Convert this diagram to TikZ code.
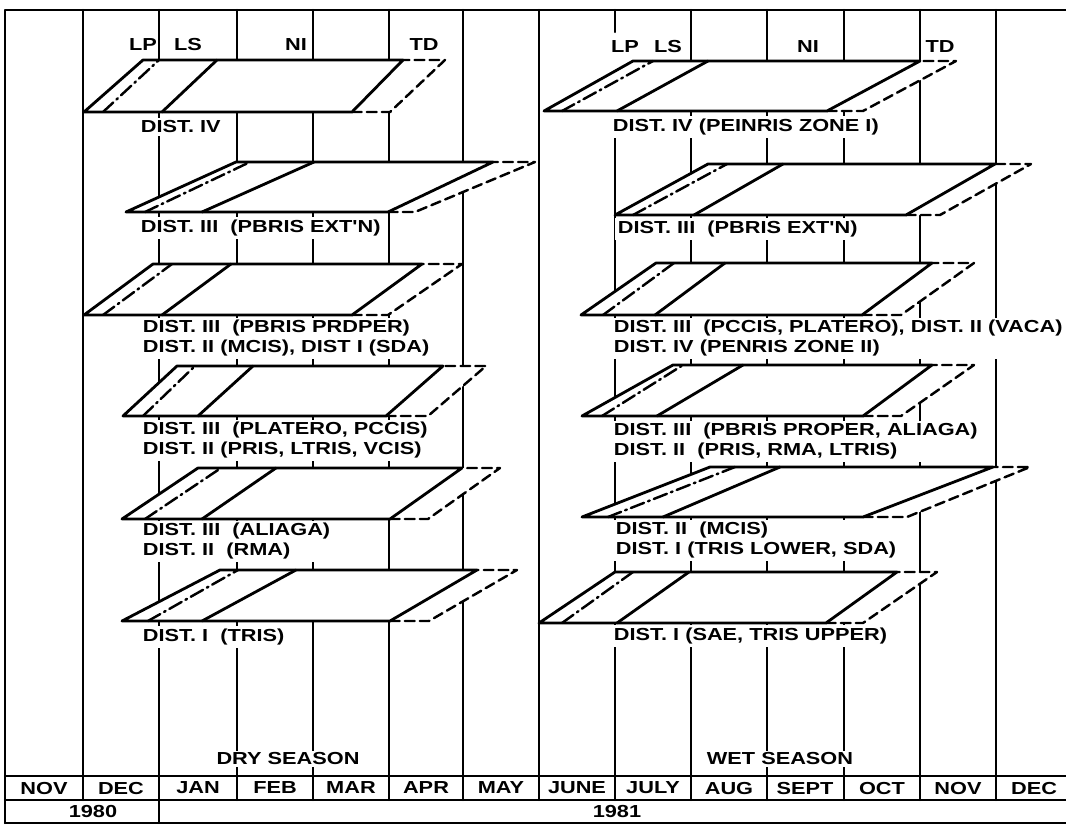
\documentclass[tikz,border=0pt]{standalone}
\usepackage{fontspec}
\newfontfamily\lettering{Liberation Sans Bold}[FakeStretch=1.25]

\begin{document}
\begin{tikzpicture}[x=0.02cm, y=-0.02cm, line cap=round, line join=round,
    frameline/.style={line width=1.4pt},
    planeline/.style={line width=1.6pt},
    dashext/.style={line width=1.4pt, dash pattern=on 5.5pt off 3pt},
    dashdot/.style={line width=1.4pt, dash pattern=on 8pt off 2.5pt on 1pt off 2.5pt},
    lbl/.style={anchor=west, fill=white, inner sep=1.5pt, align=left,
        font=\lettering\fontsize{9.9}{11.1}\selectfont},
    tag/.style={inner sep=1pt, font=\lettering\fontsize{9.9}{11.1}\selectfont}]

    % page (drawing units = pixels of the chart)
    \useasboundingbox (0,0) rectangle (1066,826);

    % month boundaries (hidden later by the planes and the labels)
    \foreach \x in {83,159,237,313,389,463,539,691,767,844,920,996}
        \draw[frameline] (\x,10) -- (\x,776);
    \draw[frameline] (615,10) -- (615,32);
    \draw[frameline] (615,120) -- (615,776);

    % frame
    \draw[frameline] (5,823) -- (5,10) -- (1066,10);
    \draw[frameline] (5,776) -- (1066,776);
    \draw[frameline] (5,800) -- (1066,800);
    \draw[frameline] (5,823) -- (1066,823);
    \draw[frameline] (159,800) -- (159,823);
    \foreach \x in {83,159,237,313,389,463,539,615,691,767,844,920,996}
        \draw[frameline] (\x,776) -- (\x,800);

    % planes: top y / bottom y / outer edge / dash-dot edge / inner edge / right solid edge / right dashed edge
    \foreach \yt/\yb/\bl/\tl/\dbl/\dtl/\sbl/\stl/\rbl/\rtl/\ebl/\etl in {
        60/112/84/143/103/159/162/217/352/403/390/445,
        162/212/126/236/145/250/202/314/388/493/415/535,
        264/315/84/153/103/172/162/231/352/422/388/462,
        366/416/123/177/143/195/198/253/386/443/428/486,
        468/519/122/198/145/221/202/276/390/462/428/500,
        570/621/122/220/148/238/202/296/390/477/429/517,
        61/111/544/633/562/653/617/708/827/920/863/956,
        164/215/615/708/633/727/694/783/906/995/940/1031,
        263/315/581/656/603/674/655/725/862/932/901/974,
        365/416/582/673/602/683/657/743/863/932/901/974,
        467/517/582/710/608/735/663/780/863/993/907/1030,
        572/623/539/615/562/633/617/689/826/897/863/937} {
        \fill[white] (\bl,\yb) -- (\tl,\yt) -- (\etl,\yt) -- (\ebl,\yb) -- cycle;
        \draw[planeline] (\bl,\yb) -- (\tl,\yt) -- (\rtl,\yt) -- (\rbl,\yb) -- cycle;
        \draw[planeline] (\sbl,\yb) -- (\stl,\yt);
        \draw[dashdot] (\dbl,\yb) -- (\dtl,\yt);
        \draw[dashext] (\rbl,\yb) -- (\ebl,\yb) -- (\etl,\yt) -- (\rtl,\yt);
    }

    % phase tags
    \node[tag] (lpA) at (143,45) {LP};
    \node[tag] (lsA) at (188,45) {LS};
    \node[tag] (niA) at (296,45) {NI};
    \node[tag] (tdA) at (424,45) {TD};
    \node[tag] (lpB) at (625,47) {LP};
    \node[tag] (lsB) at (668,47) {LS};
    \node[tag] (niB) at (808,47) {NI};
    \node[tag] (tdB) at (940,47) {TD};

    % dry season labels
    \node[lbl] (dryA) at (138,127) {DIST.\ IV};
    \node[lbl] (dryB) at (138,228) {DIST.\ III\ \ (PBRIS EXT'N)};
    \node[lbl] (dryC) at (140,338) {DIST.\ III\ \ (PBRIS PRDPER)\\DIST.\ II (MCIS), DIST I (SDA)};
    \node[lbl] (dryD) at (140,440) {DIST.\ III\ \ (PLATERO, PCCIS)\\DIST.\ II (PRIS, LTRIS, VCIS)};
    \node[lbl] (dryE) at (140,541) {DIST.\ III\ \ (ALIAGA)\\DIST.\ II\ \ (RMA)};
    \node[lbl] (dryF) at (140,637) {DIST.\ I\ \ (TRIS)};
    \node[tag, fill=white] (dry) at (288,759) {DRY SEASON};

    % wet season labels
    \node[lbl] (wetA) at (610,127) {DIST.\ IV (PEINRIS ZONE I)};
    \node[lbl] (wetB) at (615,229) {DIST.\ III\ \ (PBRIS EXT'N)};
    \node[lbl] (wetC) at (611,338) {DIST.\ III\ \ (PCCIS, PLATERO), DIST.\ II (VACA)\\DIST.\ IV (PENRIS ZONE II)};
    \node[lbl] (wetD) at (611,441) {DIST.\ III\ \ (PBRIS PROPER, ALIAGA)\\DIST.\ II\ \ (PRIS, RMA, LTRIS)};
    \node[lbl] (wetE) at (613,540) {DIST.\ II\ \ (MCIS)\\DIST.\ I (TRIS LOWER, SDA)};
    \node[lbl] (wetF) at (611,636) {DIST.\ I (SAE, TRIS UPPER)};
    \node[tag, fill=white] (wet) at (780,759) {WET SEASON};

    % months and years
    \foreach \m/\c in {NOV/44, DEC/121, JAN/198, FEB/275, MAR/351, APR/426, MAY/501,
        JUNE/577, JULY/653, AUG/729, SEPT/805, OCT/882, NOV/958, DEC/1034}
        \node[tag] (m\c) at (\c,788) {\m};
    \node[tag] (yrA) at (93,811) {1980};
    \node[tag] (yrB) at (617,811) {1981};

\end{tikzpicture}
\end{document}
